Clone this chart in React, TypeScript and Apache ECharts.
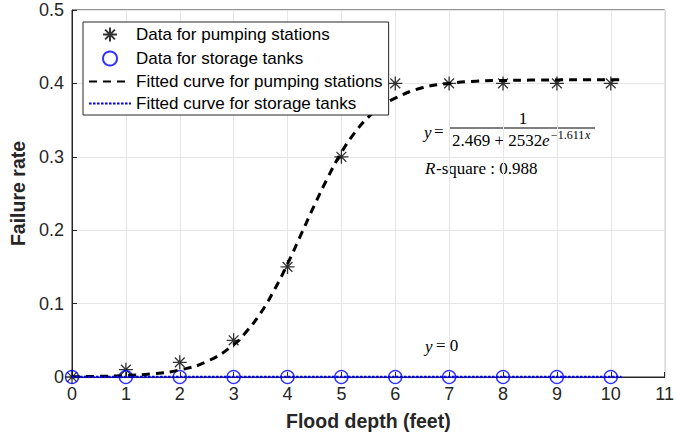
import React, { useEffect, useRef } from "react";
import * as echarts from "echarts";

const depths = [0, 1, 2, 3, 4, 5, 6, 7, 8, 9, 10];
const pumpRates = [0, 0.01, 0.02, 0.05, 0.15, 0.3, 0.4, 0.4, 0.4, 0.4, 0.4];
const tankRates = [0, 0, 0, 0, 0, 0, 0, 0, 0, 0, 0];

// fitted curve for pumping stations
const pumpFitX = [0, 0.5, 1, 1.5, 2, 2.5, 3, 3.25, 3.5, 3.75, 4, 4.25, 4.5, 4.75, 5, 5.25, 5.5, 5.75, 6, 6.5, 7, 7.5, 8, 8.5, 9, 9.5, 10, 10.2];
const pumpFitY = [0.0004, 0.0009, 0.002, 0.0044, 0.0097, 0.021, 0.044, 0.063, 0.087, 0.118, 0.154, 0.194, 0.234, 0.272, 0.306, 0.333, 0.354, 0.369, 0.38, 0.394, 0.4, 0.403, 0.404, 0.4045, 0.4048, 0.4049, 0.405, 0.405];
// fitted curve for storage tanks
const tankFitX = [0, 10.2];
const tankFitY = [0, 0];

const xTicks = { min: 0, max: 11, interval: 1 };
const yTicks = { min: 0, max: 0.5, interval: 0.1 };

const legendNames = ["Data for pumping stations", "Data for storage tanks", "Fitted curve for pumping stations", "Fitted curve for storage tanks"];

const STAR = "path://M0,-10L0,10M-10,0L10,0M-7,-7L7,7M-7,7L7,-7";

export default function App() {
  const ref = useRef<HTMLDivElement>(null);
  useEffect(() => {
    if (!ref.current) return;
    const chart = echarts.init(ref.current, null, { renderer: "svg" });
    const sans = "Liberation Sans, Arial, sans-serif";
    const serif = "Liberation Serif, Times New Roman, serif";
    const axisLabel = { color: "#262626", fontSize: 18, fontFamily: sans, margin: 8 };
    const nameStyle = { color: "#262626", fontSize: 19.5, fontWeight: "bold", fontFamily: sans };
    chart.setOption({
      animation: false,
      backgroundColor: "#fff",
      grid: { left: 72, right: 8, top: 10, bottom: 60, show: true, borderColor: "#262626", borderWidth: 1 },
      legend: {
        orient: "vertical",
        left: 83,
        top: 22,
        padding: [3, 6, 3, 5],
        itemGap: 5,
        itemWidth: 42,
        itemHeight: 14,
        borderColor: "#262626",
        borderWidth: 1,
        borderRadius: 0,
        backgroundColor: "#fff",
        textStyle: { color: "#000", fontSize: 17, fontFamily: sans },
        data: [
          { name: legendNames[0] },
          { name: legendNames[1] },
          { name: legendNames[2], itemStyle: { opacity: 0 } },
          { name: legendNames[3], itemStyle: { opacity: 0 } },
        ],
      },
      xAxis: {
        type: "value",
        ...xTicks,
        name: "Flood depth (feet)",
        nameLocation: "middle",
        nameGap: 34,
        nameTextStyle: nameStyle,
        axisLine: { show: true, lineStyle: { color: "#262626" } },
        axisTick: { show: true, inside: true, length: 5, lineStyle: { color: "#262626" } },
        axisLabel,
        splitLine: { show: true, lineStyle: { color: "#e6e6e6" } },
      },
      yAxis: {
        type: "value",
        ...yTicks,
        name: "Failure rate",
        nameLocation: "middle",
        nameGap: 42,
        nameTextStyle: nameStyle,
        axisLine: { show: true, lineStyle: { color: "#262626" } },
        axisTick: { show: true, inside: true, length: 5, lineStyle: { color: "#262626" } },
        axisLabel: { ...axisLabel, formatter: (v: number) => String(Math.round(v * 10) / 10) },
        splitLine: { show: true, lineStyle: { color: "#e6e6e6" } },
      },
      series: [
        {
          name: legendNames[0],
          type: "scatter",
          symbol: STAR,
          symbolSize: 14,
          itemStyle: { color: "none", borderColor: "#000", borderWidth: 1.3 },
          data: depths.map((d, i) => [d, pumpRates[i]]),
        },
        {
          name: legendNames[1],
          type: "scatter",
          symbol: "circle",
          symbolSize: 13,
          itemStyle: { color: "none", borderColor: "#0000ff", borderWidth: 1.4 },
          data: depths.map((d, i) => [d, tankRates[i]]),
        },
        {
          name: legendNames[2],
          type: "line",
          smooth: true,
          showSymbol: false,
          symbol: "none",
          lineStyle: { color: "#000", width: 3, type: [8, 6] },
          itemStyle: { color: "#000" },
          data: pumpFitX.map((x, i) => [x, pumpFitY[i]]),
        },
        {
          name: legendNames[3],
          type: "line",
          showSymbol: false,
          symbol: "none",
          lineStyle: { color: "#0000ff", width: 2.5, type: [2.5, 1.5] },
          itemStyle: { color: "#0000ff" },
          data: tankFitX.map((x, i) => [x, tankFitY[i]]),
        },
      ],
      graphic: [
        { type: "text", x: 424, y: 132, style: { text: "y", font: `italic 17px ${serif}`, fill: "#000", verticalAlign: "middle" } },
        { type: "text", x: 434, y: 131, style: { text: "=", font: `17px ${serif}`, fill: "#000", verticalAlign: "middle" } },
        { type: "text", x: 523, y: 118, style: { text: "1", font: `17px ${serif}`, fill: "#000", align: "center", verticalAlign: "middle" } },
        { type: "line", shape: { x1: 450, y1: 128, x2: 595, y2: 128 }, style: { stroke: "#000", lineWidth: 1 } },
        { type: "text", x: 452, y: 140, style: { text: "2.469 + 2532", font: `17px ${serif}`, fill: "#000", verticalAlign: "middle" } },
        { type: "text", x: 542, y: 140, style: { text: "e", font: `italic 17px ${serif}`, fill: "#000", verticalAlign: "middle" } },
        { type: "text", x: 551, y: 135, style: { text: "−1.611", font: `12px ${serif}`, fill: "#000", verticalAlign: "middle" } },
        { type: "text", x: 585, y: 135, style: { text: "x", font: `italic 12px ${serif}`, fill: "#000", verticalAlign: "middle" } },
        { type: "text", x: 425, y: 168, style: { text: "R", font: `italic 17px ${serif}`, fill: "#000", verticalAlign: "middle" } },
        { type: "text", x: 436, y: 168, style: { text: "-square : 0.988", font: `17px ${serif}`, fill: "#000", verticalAlign: "middle" } },
        { type: "text", x: 425, y: 346, style: { text: "y", font: `italic 17px ${serif}`, fill: "#000", verticalAlign: "middle" } },
        { type: "text", x: 436, y: 345, style: { text: "= 0", font: `17px ${serif}`, fill: "#000", verticalAlign: "middle" } },
      ],
    });
    return () => chart.dispose();
  }, []);
  return <div ref={ref} style={{ position: "fixed", left: 0, top: 0, width: 677, height: 437 }} />;
}
